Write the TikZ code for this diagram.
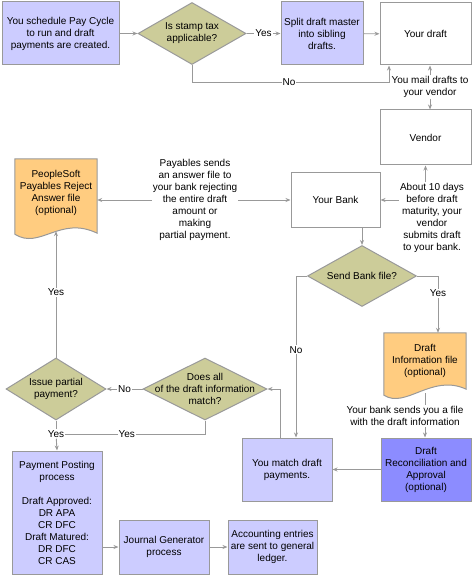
\documentclass[tikz,border=0pt]{standalone}
\usepackage{fontspec}
\setmainfont{Liberation Sans}
\usetikzlibrary{shapes.geometric,arrows.meta,backgrounds,calc}
\definecolor{bx}{HTML}{CCCCFF}
\definecolor{dk}{HTML}{8C8CFF}
\definecolor{dm}{HTML}{CCCC99}
\definecolor{dc}{HTML}{FFCC80}
\definecolor{edge}{HTML}{999999}
\definecolor{ln}{HTML}{999999}
\begin{document}
\begin{tikzpicture}[x=1pt,y=-1pt,
  font=\fontsize{10}{12}\selectfont,
  bdr/.style={draw=edge,line width=1pt},
  box/.style={bdr,rectangle,align=center,inner sep=1pt},
  bluebox/.style={box,fill=bx},
  whitebox/.style={box,fill=white},
  darkbox/.style={box,fill=dk},
  dia/.style={bdr,shape=diamond,fill=dm,inner sep=0pt},
  docnode/.style={rectangle,inner sep=0pt},
  docshape/.style={bdr,fill=dc},
  txt/.style={align=center,inner sep=1pt},
  lab/.style={fill=white,inner sep=1pt},
  conn/.style={draw=ln,line width=0.9pt},
  arr/.style={conn,-{Stealth[length=5pt,width=4pt]}}]
\useasboundingbox (0,0) rectangle (473,577);

% top row
\node[bluebox,minimum width=117pt,minimum height=63pt] (b1) at (60.5,33.5) {You schedule Pay Cycle\\to run and draft\\payments are created.};
\node[dia,minimum width=108pt,minimum height=62pt,label={[txt]center:Is stamp tax\\applicable?}] (d0) at (192,33.5) {};
\node[bluebox,minimum width=82pt,minimum height=63pt] (sp) at (322,33.5) {Split draft master\\into sibling\\drafts.};
\node[whitebox,minimum width=91pt,minimum height=62pt] (yd) at (425.5,34) {Your draft};
\node[whitebox,minimum width=91pt,minimum height=55pt] (vn) at (425.5,137.5) {Vendor};
\node[whitebox,minimum width=89pt,minimum height=54pt] (bk) at (335.5,200) {Your Bank};

% documents
\node[docnode,minimum width=82pt,minimum height=75pt,label={[txt,yshift=4pt]center:PeopleSoft\\Payables Reject\\Answer file\\(optional)}] (ps) at (56,196.5) {};
\node[docnode,minimum width=82pt,minimum height=62pt,label={[txt,yshift=3pt]center:Draft\\Information file\\(optional)}] (di) at (425,364) {};
\begin{scope}[on background layer]
\filldraw[docshape] (ps.south west) -- (ps.north west) -- (ps.north east) -- ($(ps.south east)+(0,-1)$)
  .. controls ($(ps.south west)+(45,-19)$) and ($(ps.south west)+(25,16)$) .. (ps.south west) -- cycle;
\filldraw[docshape] (di.south west) -- (di.north west) -- (di.north east) -- ($(di.south east)+(0,-6)$)
  .. controls ($(di.south west)+(48,-22)$) and ($(di.south west)+(22,14)$) .. (di.south west) -- cycle;
\end{scope}

% decisions
\node[dia,minimum width=109pt,minimum height=61pt,label={[txt]center:Send Bank file?}] (sb) at (362,276) {};
\node[dia,minimum width=124pt,minimum height=62pt,label={[txt]center:Does all\\of the draft information\\match?}] (d2) at (205,389) {};
\node[dia,minimum width=100pt,minimum height=62pt,label={[txt]center:Issue partial\\payment?}] (d1) at (56,389) {};

% lower boxes
\node[bluebox,minimum width=90pt,minimum height=63pt] (m) at (287,469.5) {You match draft\\payments.};
\node[darkbox,minimum width=90pt,minimum height=63pt] (rc) at (426,469.5) {Draft\\Reconciliation and\\Approval\\(optional)};
\node[bluebox,minimum width=90pt,minimum height=123pt] (pp) at (57,512.5) {Payment Posting\\process\\[12pt]Draft Approved:\\DR APA\\CR DFC\\Draft Matured:\\DR DFC\\CR CAS};
\node[bluebox,minimum width=90pt,minimum height=54pt] (jg) at (164,547) {Journal Generator\\process};
\node[bluebox,minimum width=89pt,minimum height=54pt] (ae) at (272.5,547) {Accounting entries\\are sent to general\\ledger.};

% text labels
\node[txt] (mail) at (430,87) {You mail drafts to\\your vendor};
\node[txt] (about) at (432,218) {About 10 days\\before draft\\maturity, your\\vendor\\submits draft\\to your bank.};
\node[txt] (pay) at (195,200) {Payables sends\\an answer file to\\your bank rejecting\\the entire draft\\amount or\\making\\partial payment.};

% connectors
\draw[arr] (b1) -- (d0);
\draw[arr] (d0.east) -- node[lab] (y1) {Yes} (sp.west);
\draw[arr] (sp) -- (yd);
\coordinate (c1) at (389,82);
\draw[arr] (d0.south) |- node[lab,pos=0.746] (n1) {No} (c1) -- (c1 |- yd.south);
\draw[arr] (mail.north) -- (mail.north |- yd.south);
\draw[arr] (mail.south) -- (mail.south |- vn.north);
\draw[arr] (vn.south |- about.north) -- (vn.south);
\draw[arr] (about.west |- bk.east) -- (bk.east);
\draw[arr] (pay.west) -- (pay.west -| ps.east);
\draw[arr] (pay.east) -- (bk.west);
\draw[arr] (sb.north |- bk.south) -- (sb.north);
\draw[arr] (sb.east) -| node[lab,pos=0.65] (y2) {Yes} ([xshift=13pt]di.north);
\draw[arr] (sb.west) -| node[lab,pos=0.728] (n2) {No} ([xshift=9pt]m.north);
\draw[arr] ([yshift=2pt]di.south) -- (di.south |- rc.north);
\node[txt,fill=white] (snd) at (405,416) {Your bank sends you a file\\with the draft information};
\draw[arr] (rc) -- (m);
\draw[arr] ([xshift=-7pt]m.north) |- (d2.east);
\draw[arr] (d2.west) -- node[lab] (n3) {No} (d1.east);
\draw[arr] (d1.north) -- node[lab,pos=0.516] (y4) {Yes} ([yshift=3pt]ps.south);
\node[lab] (y5) at (56,434) {Yes};
\draw[conn] (d1.south) -- (y5);
\draw[arr] (y5) -- (pp.north);
\draw[conn] (d2.south) |- node[lab,pos=0.78] (y6) {Yes} (y5.east);
\draw[arr] (pp.east |- jg.west) -- (jg.west);
\draw[arr] (jg) -- (ae);
\end{tikzpicture}
\end{document}
